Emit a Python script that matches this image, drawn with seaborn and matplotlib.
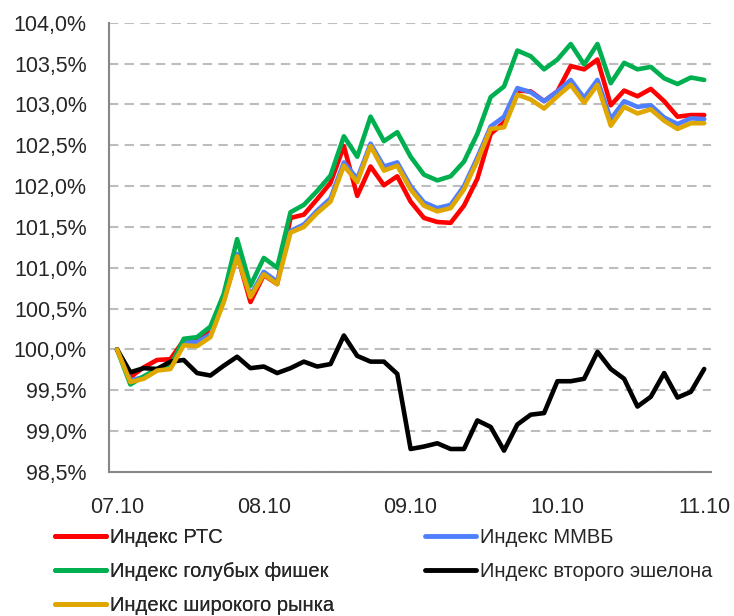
import matplotlib
matplotlib.use("Agg")
import matplotlib.pyplot as plt
from matplotlib.lines import Line2D
from matplotlib.ticker import FuncFormatter
import numpy as np
import pandas as pd
import seaborn as sns

# values in % of the 07.10 level, 45 points
rts = [100.00, 99.66, 99.78, 99.87, 99.88, 100.11, 100.12, 100.25, 100.60, 101.16,
       100.58, 100.91, 100.80, 101.61, 101.65, 101.84, 102.04, 102.49, 101.88, 102.24,
       102.01, 102.12, 101.81, 101.61, 101.56, 101.55, 101.76, 102.09, 102.64, 102.78,
       103.17, 103.16, 103.04, 103.16, 103.47, 103.43, 103.55, 102.99, 103.17, 103.10,
       103.19, 103.04, 102.85, 102.87, 102.87]
micex = [100.00, 99.62, 99.66, 99.75, 99.77, 100.09, 100.09, 100.18, 100.62, 101.17,
         100.66, 100.95, 100.83, 101.45, 101.53, 101.70, 101.85, 102.29, 102.09, 102.52,
         102.24, 102.29, 102.00, 101.80, 101.73, 101.77, 102.00, 102.35, 102.73, 102.85,
         103.20, 103.15, 103.04, 103.16, 103.30, 103.08, 103.30, 102.82, 103.04, 102.97,
         102.99, 102.84, 102.76, 102.83, 102.82]
blue_chips = [100.00, 99.57, 99.67, 99.76, 99.79, 100.13, 100.15, 100.28, 100.68, 101.35,
              100.78, 101.12, 101.00, 101.68, 101.77, 101.94, 102.13, 102.61, 102.36, 102.85,
              102.55, 102.66, 102.36, 102.14, 102.07, 102.12, 102.30, 102.64, 103.09, 103.22,
              103.66, 103.59, 103.43, 103.55, 103.74, 103.49, 103.74, 103.26, 103.51, 103.43,
              103.46, 103.32, 103.25, 103.33, 103.30]
second_tier = [100.00, 99.72, 99.77, 99.76, 99.85, 99.87, 99.71, 99.68, 99.80, 99.91,
               99.77, 99.79, 99.71, 99.77, 99.85, 99.79, 99.82, 100.17, 99.92, 99.85,
               99.85, 99.70, 98.78, 98.81, 98.85, 98.78, 98.78, 99.13, 99.05, 98.76,
               99.08, 99.20, 99.22, 99.61, 99.61, 99.64, 99.97, 99.76, 99.64, 99.30,
               99.42, 99.71, 99.41, 99.48, 99.76]
broad = [100.00, 99.60, 99.64, 99.74, 99.76, 100.05, 100.04, 100.15, 100.58, 101.14,
         100.64, 100.92, 100.80, 101.43, 101.50, 101.67, 101.81, 102.25, 102.05, 102.49,
         102.19, 102.25, 101.96, 101.76, 101.69, 101.73, 101.96, 102.31, 102.70, 102.72,
         103.12, 103.06, 102.95, 103.10, 103.24, 103.02, 103.24, 102.74, 102.97, 102.89,
         102.94, 102.80, 102.70, 102.77, 102.77]

names = ["Индекс РТС", "Индекс ММВБ", "Индекс голубых фишек",
         "Индекс второго эшелона", "Индекс широкого рынка"]
colors = ["#FF0000", "#4F7FFF", "#00B050", "#000000", "#DFA700"]
date_labels = ["07.10", "08.10", "09.10", "10.10", "11.10"]
date_pos = [0, 11, 22, 33, 44]

series = [rts, micex, blue_chips, second_tier, broad]
df = pd.concat([pd.DataFrame({"idx": np.arange(len(s)), "val": s, "name": n})
                for s, n in zip(series, names)], ignore_index=True)

sns.set_style("white")
plt.rcParams["font.family"] = ["Liberation Sans", "DejaVu Sans"]

fig = plt.figure(figsize=(7.34, 6.16), dpi=100)
ax = fig.add_axes([0.1485, 0.234, 0.82, 0.729])

sns.lineplot(data=df, x="idx", y="val", hue="name", hue_order=names,
             palette=dict(zip(names, colors)), linewidth=3.3, legend=False, ax=ax)

ax.set_xlim(-0.6, 44.5)
ax.set_ylim(98.5, 104.0)
ax.set_yticks(np.arange(98.5, 104.01, 0.5))
ax.yaxis.set_major_formatter(FuncFormatter(lambda v, p: f"{v:.1f}%".replace(".", ",")))
ax.set_xticks(date_pos)
ax.set_xticklabels(date_labels)
ax.set_xlabel("")
ax.set_ylabel("")

ax.grid(axis="y", color="#BDBDBD", linestyle=(0, (4.5, 3)), linewidth=1.5)
ax.set_axisbelow(True)
for side in ["top", "right"]:
    ax.spines[side].set_visible(False)
for side in ["left", "bottom"]:
    ax.spines[side].set_color("#878787")
    ax.spines[side].set_linewidth(1.5)
ax.tick_params(axis="y", direction="out", length=5, width=1.2, color="#878787",
               labelsize=15.5, pad=11)
ax.tick_params(axis="x", length=0, labelsize=15.5, pad=18)

# two legend columns placed like the reference
leg_kw = dict(frameon=False, loc="upper left", fontsize=14.5, handlelength=2.55,
              handletextpad=0.2, labelspacing=0.75, borderpad=0, borderaxespad=0)
h = [Line2D([], [], color=c, linewidth=3.5) for c in colors]
leg1 = fig.legend([h[0], h[2], h[4]], [names[0], names[2], names[4]],
                  bbox_to_anchor=(55 / 734, 0.143), **leg_kw)
fig.add_artist(leg1)
fig.legend([h[1], h[3]], [names[1], names[3]],
           bbox_to_anchor=(425 / 734, 0.143), **leg_kw)

fig.savefig("out.png", dpi=100)
